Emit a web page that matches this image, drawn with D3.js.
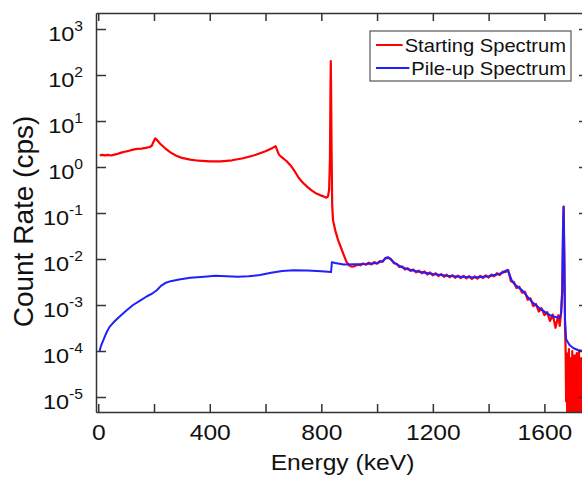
<!DOCTYPE html>
<html><head><meta charset="utf-8">
<script src="https://cdn.jsdelivr.net/npm/d3@7"></script>
<style>
body{margin:0;background:#fff}
svg{display:block}
text{font-family:"Liberation Sans",Arial,sans-serif;fill:#111}
</style>
</head><body>
<svg id="c" width="582" height="477"></svg>
<script>
// ---------- data ----------
const redE = [5,15,25,35,45,55,65,75,85,95,110,125,140,155,170,185,192,198,204,210,222,240,260,280,300,330,360,400,440,480,520,560,600,625,636,642,648,660,675,690,705,720,735,750,765,780,795,808,818,824,828,831,833,834,835,837,839,842,850,860,870,880,890,
900,910,920,930,940,950,960,970,980,990,1000,1010,1020,1030,1040,1050,1060,1070,1080,1090,1100,1110,1120,1130,1140,1150,1160,1170,1180,1190,1200,1210,1220,1230,1240,1250,1260,1270,1280,1290,1300,1310,1320,1330,1340,1350,1360,1370,1380,1390,1400,1410,1420,1430,1440,1450,1460,1470,1480,1490,1500,1510,1520,1530,1540,1550,1560,1570,1580,1590,1600,1610,1620,1630,1640,1650,1655,1660,1664,1667,1669,1671,1674,
1676,1678,1680,1682,1684,1686,1688,1690,1692,1694,1696,1698,1700,1702,1704,1706,1708,1710,1712,1714,1716,1718,1720,1722,1724,1726,1728,1730,1732,1734,1736,1738,1740];
const redV = [1.80,1.84,1.79,1.83,1.78,1.84,1.90,1.98,2.08,2.15,2.25,2.38,2.48,2.52,2.60,2.72,2.9,3.5,4.2,3.9,3.2,2.55,2.05,1.75,1.58,1.45,1.37,1.32,1.33,1.40,1.55,1.8,2.2,2.6,2.85,2.3,1.85,1.6,1.35,1.08,0.8,0.57,0.45,0.37,0.31,0.27,0.245,0.23,0.215,0.23,0.32,1.5,60,200,60,2,0.15,0.07,0.042,0.026,0.018,0.0125,0.0088,
0.0072,0.0068,0.0070,0.0075,0.0073,0.0080,0.0075,0.0083,0.0076,0.0086,0.0079,0.0090,0.0087,0.0106,0.0105,0.0100,0.0081,0.0079,0.0067,0.0069,0.0059,0.0063,0.0055,0.0059,0.0051,0.0056,0.0049,0.00535,0.0046,0.0051,0.0044,0.0049,0.00425,0.0047,0.0041,0.00455,0.0040,0.00445,0.0039,0.00435,0.00385,0.0043,0.0038,0.00425,0.0037,0.0042,0.00375,0.0043,0.00385,0.0044,0.00395,0.0046,0.0042,0.0049,0.0045,0.0053,0.0052,0.0058,0.0033,0.0032,0.00235,0.0025,0.00185,0.00195,0.0013,0.0014,0.00095,0.00105,0.00072,0.00085,0.0006,0.0007,0.00045,0.00062,0.00032,0.0006,0.00035,0.0007,0.002,0.05,0.137,0.02,0.0003,
0.00012,0.000008,0.00009,0.000003,0.00006,0.00001,0.00011,0.000004,0.00007,0.000002,0.00005,0.000009,0.0001,0.000003,0.00004,0.000006,0.00008,0.000002,0.00006,0.000012,0.00009,0.000003,0.00005,0.000007,0.0001,0.000002,0.00004,0.000008,0.00007,0.000003,0.00006,0.000005,0.00008];

const blueE = [5,10,18,28,40,55,75,100,125,150,175,195,210,225,240,260,290,330,380,420,460,500,540,580,620,660,700,750,800,835,838,850,880,920,960,1000,1020,1032,1040,1050,1065,1085,1110,1150,1200,1250,1300,1350,1400,1430,1450,1462,1468,1475,1485,1500,1520,1540,1560,1580,1600,1620,1640,1655,1660,1664,1667,1669,1671,1674,1678,1690,1705,1720,1740,1760];
const blueV = [1.0e-4,1.3e-4,1.7e-4,2.4e-4,3.3e-4,4.2e-4,5.5e-4,7.5e-4,1.0e-3,1.25e-3,1.55e-3,1.8e-3,2.1e-3,2.6e-3,3.0e-3,3.3e-3,3.6e-3,3.9e-3,4.1e-3,4.3e-3,4.2e-3,4.1e-3,4.2e-3,4.5e-3,5.0e-3,5.5e-3,5.7e-3,5.6e-3,5.4e-3,5.2e-3,8.5e-3,8.2e-3,7.6e-3,7.7e-3,7.8e-3,8.2e-3,9.0e-3,1.05e-2,1.1e-2,9.6e-3,8.0e-3,6.8e-3,6.0e-3,5.3e-3,4.7e-3,4.3e-3,4.1e-3,3.95e-3,4.2e-3,4.6e-3,5.0e-3,5.6e-3,5.7e-3,4.6e-3,3.2e-3,2.6e-3,2.1e-3,1.5e-3,1.1e-3,8.8e-4,7.2e-4,6.0e-4,5.5e-4,5.2e-4,6.5e-4,2.0e-3,0.05,0.137,0.02,5e-4,1.8e-4,1.35e-4,1.15e-4,1.05e-4,1.0e-4,0.95e-4];

const seriesNames = ["Starting Spectrum","Pile-up Spectrum"];
const seriesColors = ["#ff0000","#2020ff"];
const xTickValues = [0,200,400,600,800,1000,1200,1400,1600];
const xTickLabels = ["0","","400","","800","","1200","","1600"];
const yTickExps = [-5,-4,-3,-2,-1,0,1,2,3];
const xTitle = "Energy (keV)";
const yTitle = "Count Rate (cps)";

// ---------- layout ----------
const L=96,R=589,T=13,B=412, SX=1.12;
const svg = d3.select("#c");
const x = d3.scaleLinear().domain([-8,1760]).range([L,R]);
const y = d3.scaleLog().domain([Math.pow(10,-5.326),Math.pow(10,3.348)]).range([B,T]);
const yTickValues = yTickExps.map(e=>Math.pow(10,e));

svg.append("clipPath").attr("id","pc").append("rect").attr("x",L).attr("y",T).attr("width",R-L).attr("height",B-T);

const line = d3.line().x(d=>x(d[0])).y(d=>y(d[1]));
const redData = redE.map((e,i)=>[e,redV[i]]);
const blueData = blueE.map((e,i)=>[e,blueV[i]]);
const plot = svg.append("g").attr("clip-path","url(#pc)");
plot.append("path").datum(redData).attr("d",line).attr("fill","none").attr("stroke",seriesColors[0]).attr("stroke-width",2.2).attr("stroke-linejoin","round");
plot.append("path").datum(blueData).attr("d",line).attr("fill","none").attr("stroke",seriesColors[1]).attr("stroke-width",2).attr("stroke-linejoin","round");

function styleAxis(g){
  g.selectAll("path,line").attr("stroke","#333").attr("stroke-width",1.5);
}
// bottom
const gb = svg.append("g").attr("transform",`translate(0,${B})`)
  .call(d3.axisBottom(x).tickValues(xTickValues).tickSize(-8).tickSizeOuter(0).tickPadding(12).tickFormat((d,i)=>xTickLabels[i]));
gb.call(styleAxis);
gb.selectAll("text").attr("font-size",22).attr("font-family",null).attr("fill","#111").attr("transform",`scale(${SX},1)`);
// top
const gt = svg.append("g").attr("transform",`translate(0,${T})`)
  .call(d3.axisTop(x).tickValues(xTickValues).tickSize(-8).tickSizeOuter(0).tickFormat(""));
gt.call(styleAxis);
// left
const gl = svg.append("g").attr("transform",`translate(${L},0)`)
  .call(d3.axisLeft(y).tickValues(yTickValues).tickSize(-10).tickSizeOuter(0).tickPadding(0).tickFormat(()=> "10"));
gl.call(styleAxis);
gl.selectAll("text").each(function(d,i){
  const t=d3.select(this);
  t.attr("font-size",21).attr("font-family",null).attr("fill","#111")
   .attr("x",-13/SX).attr("dy",null).attr("y",11).attr("transform",`scale(${SX},1)`);
  t.append("tspan").attr("font-size",14).attr("dy",-10).text(yTickExps[i]);
});
// right
const gr = svg.append("g").attr("transform",`translate(${R},0)`)
  .call(d3.axisRight(y).tickValues(yTickValues).tickSize(-10).tickSizeOuter(0).tickFormat(""));
gr.call(styleAxis);

// titles
svg.append("text").attr("transform",`translate(${(L+R)/2},470) scale(${SX},1)`).attr("text-anchor","middle").attr("font-size",22).text(xTitle);
svg.append("text").attr("transform",`translate(33,${(T+B)/2+9}) rotate(-90)`).attr("text-anchor","middle").attr("font-size",28).text(yTitle);

// legend
const lg = svg.append("g");
lg.append("rect").attr("x",370).attr("y",31).attr("width",201).attr("height",50).attr("fill","#fff").attr("stroke","#555").attr("stroke-width",1.2);
const rows=[{y:45,b:52},{y:68,b:75}];
seriesNames.forEach((n,i)=>{
  const t = lg.append("text").attr("transform",`translate(566,${rows[i].b}) scale(${SX},1)`).attr("text-anchor","end").attr("font-size",18).text(n);
  const w = t.node().getComputedTextLength()*SX;
  lg.append("line").attr("x1",376).attr("x2",566-w-2).attr("y1",rows[i].y).attr("y2",rows[i].y).attr("stroke",seriesColors[i]).attr("stroke-width",2);
});
</script>
</body></html>
